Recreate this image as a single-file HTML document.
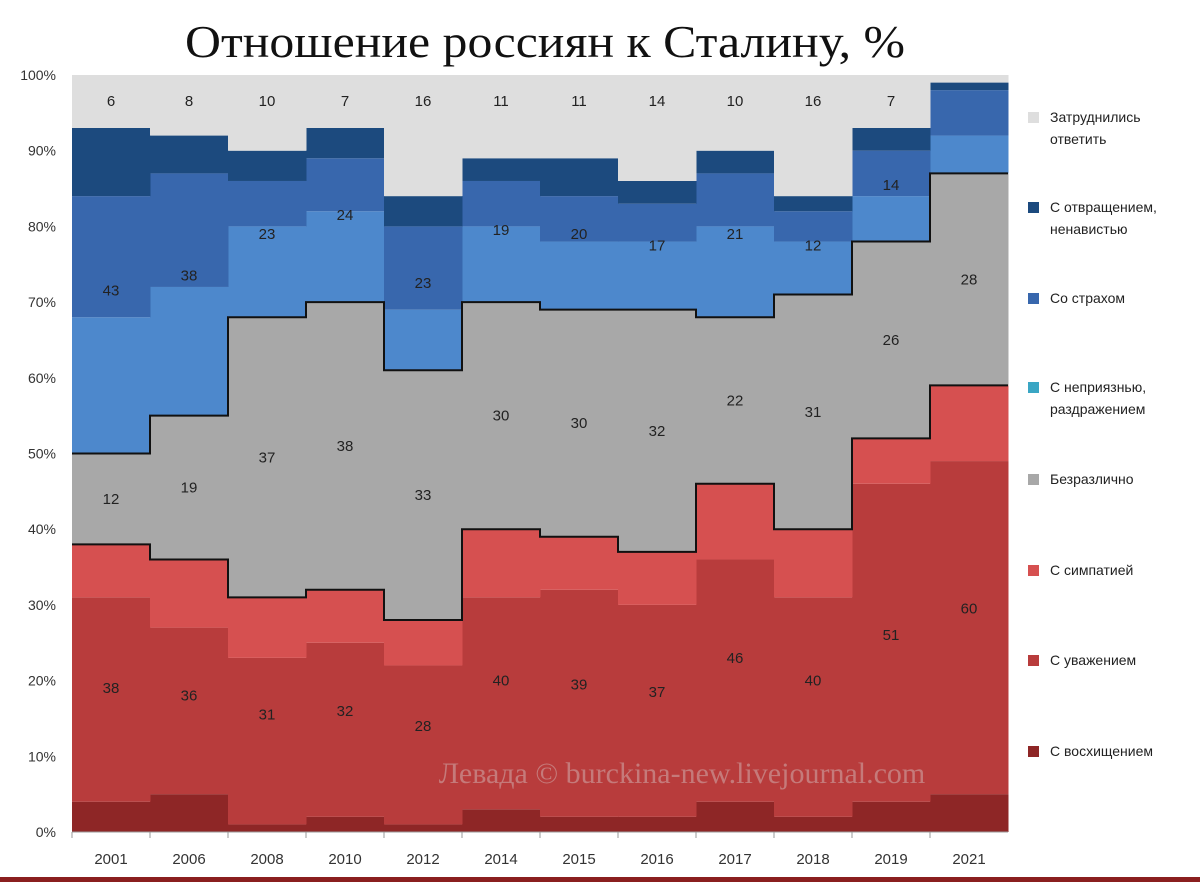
<!DOCTYPE html>
<html><head><meta charset="utf-8"><style>
body{margin:0;background:#fff;width:1200px;height:882px;overflow:hidden;font-family:"Liberation Sans","DejaVu Sans",sans-serif;}
</style></head><body>
<svg id="chart" width="1200" height="882" xmlns="http://www.w3.org/2000/svg">
<text x="185" y="57" textLength="720" lengthAdjust="spacingAndGlyphs" font-family="Liberation Serif, serif" font-size="46" fill="#111">Отношение россиян к Сталину, %</text>
<g id="plot"></g>
<rect x="0" y="877" width="1200" height="5" fill="#8a1f1f"/>
</svg>
<script>
const years=["2001","2006","2008","2010","2012","2014","2015","2016","2017","2018","2019","2021"];
const admiration=[4,5,1,2,1,3,2,2,4,2,4,5];
const respect=[27,22,22,23,21,28,30,28,32,29,42,44];
const sympathy=[7,9,8,7,6,9,7,7,10,9,6,10];
const indifferent=[12,19,37,38,33,30,30,32,22,31,26,28];
const dislike=[18,17,12,12,8,10,9,9,12,7,6,5];
const fear=[16,15,6,7,11,6,6,5,7,4,6,6];
const disgust=[9,5,4,4,4,3,5,3,3,2,3,1];
const hard=[7,8,10,7,16,11,11,14,10,16,7,1];
const redLabels=[38,36,31,32,28,40,39,37,46,40,51,60];
const grayLabels=[12,19,37,38,33,30,30,32,22,31,26,28];
const blueLabels=[43,38,23,24,23,19,20,17,21,12,14,""];
const hardLabels=[6,8,10,7,16,11,11,14,10,16,7,""];
const yTicks=[0,10,20,30,40,50,60,70,80,90,100];

const NS="http://www.w3.org/2000/svg";
const g=document.getElementById('plot');
const X0=72,X1=1008,Y0=832,Y1=75;
const bw=(X1-X0)/years.length;
const xs=i=>X0+i*bw;
const ys=v=>Y0-(Y0-Y1)*v/100;
function mk(t,a,p){const e=document.createElementNS(NS,t);for(const k in a)e.setAttribute(k,a[k]);(p||g).appendChild(e);return e;}
const series=[["admiration",admiration,"#8e2626"],["respect",respect,"#b83c3c"],["sympathy",sympathy,"#d65050"],["indifferent",indifferent,"#a8a8a8"],["dislike",dislike,"#4d88cc"],["fear",fear,"#3867ad"],["disgust",disgust,"#1c4a7e"],["hard",hard,"#dedede"]];
const base=years.map(()=>0);
const tops={};
series.forEach(([nm,arr,col])=>{
  years.forEach((y,i)=>{
    const r=mk('rect',{x:xs(i),y:ys(base[i]+arr[i]),width:bw+0.5,height:ys(base[i])-ys(base[i]+arr[i]),fill:col});
    
    
    base[i]+=arr[i];
  });
  tops[nm]=base.slice();
});
function stepLine(arr,name){
  let d="";
  arr.forEach((v,i)=>{d+=(i?"L":"M")+xs(i)+","+ys(v)+"L"+xs(i+1)+","+ys(v);});
  const p=mk('path',{d:d,fill:"none",stroke:"#111","stroke-width":2});
  
  
}
stepLine(tops.sympathy,'positive-boundary-line');
stepLine(tops.indifferent,'indifferent-boundary-line');
function lab(txt,x,y,name){const t=mk('text',{x:x,y:y,"text-anchor":"middle","font-size":15,fill:"#222"});t.textContent=txt;}
years.forEach((y,i)=>{
  const cx=xs(i)+bw/2;
  lab(redLabels[i],cx,ys(tops.sympathy[i]/2)+5,'label-positive-'+y);
  lab(grayLabels[i],cx,ys((tops.sympathy[i]+tops.indifferent[i])/2)+5,'label-indifferent-'+y);
  if(blueLabels[i]!=="")lab(blueLabels[i],cx,ys((tops.indifferent[i]+tops.disgust[i])/2)+5,'label-negative-'+y);
  if(hardLabels[i]!=="")lab(hardLabels[i],cx,106,'label-hard-'+y);
  const xt=mk('text',{x:cx,y:864,"text-anchor":"middle","font-size":15,fill:"#333"});xt.textContent=y;
  
  
  const tk=mk('line',{x1:xs(i),x2:xs(i),y1:Y0,y2:Y0+6,stroke:"#999"});
  
  
});
yTicks.forEach(v=>{
  const t=mk('text',{x:56,y:ys(v)+5,"text-anchor":"end","font-size":14,fill:"#333"});t.textContent=v+"%";
  
  
});
const ax=mk('line',{x1:X0,x2:X1,y1:Y0,y2:Y0,stroke:"#999"});


const wm=mk('text',{x:682,y:783,"text-anchor":"middle","font-size":30,fill:"#c98a8a","font-family":"Liberation Serif, serif",opacity:0.8});
wm.textContent="Левада © burckina-new.livejournal.com";


const legend=[["Затруднились","ответить","#dedede",122],["С отвращением,","ненавистью","#1c4a7e",212],["Со страхом","","#3867ad",303],["С неприязнью,","раздражением","#3aa6c4",392],["Безразлично","","#a8a8a8",484],["С симпатией","","#d65050",575],["С уважением","","#b83c3c",665],["С восхищением","","#8e2626",756]];
legend.forEach(([a,b,c,y],k)=>{
  const r=mk('rect',{x:1028,y:y-10,width:11,height:11,fill:c});
  
  
  const t=mk('text',{x:1050,y:y,"font-size":14,fill:"#222"});t.textContent=a;
  
  
  if(b){const t2=mk('text',{x:1050,y:y+22,"font-size":14,fill:"#222"});t2.textContent=b;
  
  }
});
</script>
</body></html>
